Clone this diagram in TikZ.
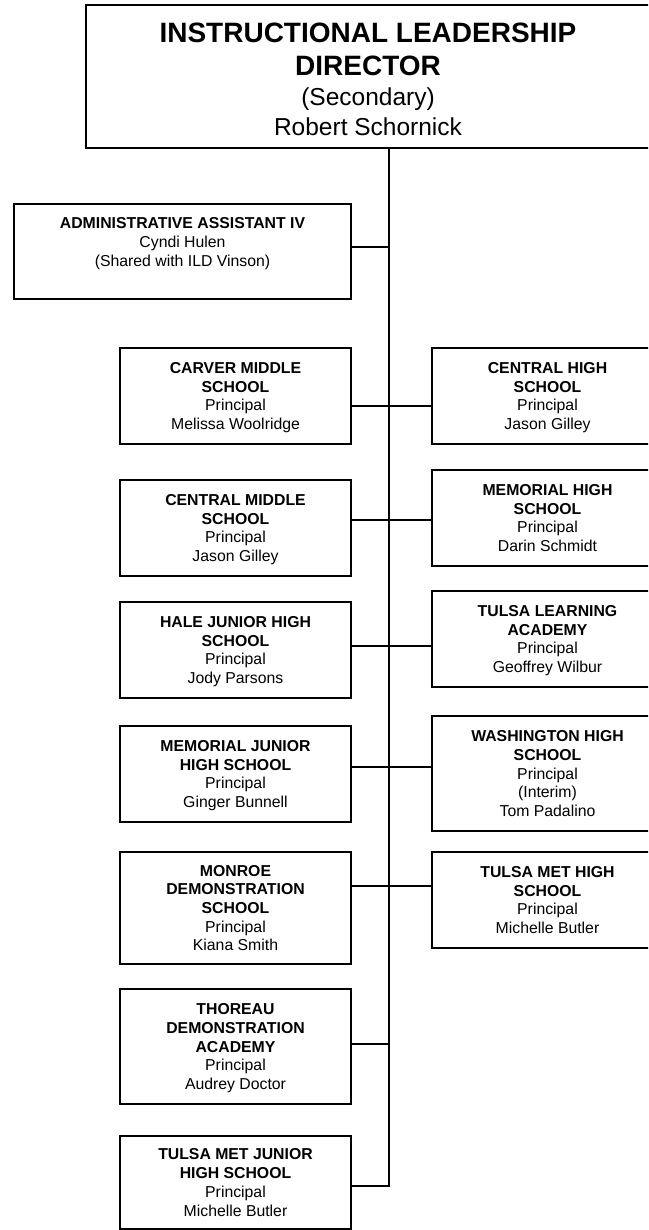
\documentclass[tikz,border=0pt]{standalone}
\usepackage{fontspec}
\setmainfont{Liberation Sans}

\begin{document}
\begin{tikzpicture}
        [x=1pt,y=-1pt,line width=1.8pt,
        box/.style={shape=rectangle,draw,line width=1.8pt,align=center,inner sep=0pt,
        font=\fontsize{15.8}{18.7}\selectfont},
        unit/.style={box,minimum width=231pt,minimum height=96pt,text depth=0pt}]
    \useasboundingbox (0,0) rectangle (648,1230);
    \clip (0,0) rectangle (648,1230);
        \node[box,minimum width=564pt,minimum height=143pt,font=\fontsize{24.5}{30}\selectfont] (ild) at (368,76.5)
            {\rule{0pt}{25pt}\textbf{\fontsize{28}{30}\selectfont INSTRUCTIONAL LEADERSHIP}\\[3pt]\textbf{\fontsize{28}{30}\selectfont DIRECTOR}\\(Secondary)\\Robert Schornick};
        \node[box,minimum width=337pt,minimum height=95pt] (admin) at (182.5,251.5)
            {\textbf{ADMINISTRATIVE ASSISTANT IV}\\Cyndi Hulen\\(Shared with ILD Vinson)\\\mbox{}};

        \node[unit] (carver) at (235.5,396) {\textbf{CARVER MIDDLE}\\\textbf{SCHOOL}\\Principal\\Melissa Woolridge};
        \node[unit] (cms) at (235.5,528) {\textbf{CENTRAL MIDDLE}\\\textbf{SCHOOL}\\Principal\\Jason Gilley};
        \node[unit] (hale) at (235.5,650) {\textbf{HALE JUNIOR HIGH}\\\textbf{SCHOOL}\\Principal\\Jody Parsons};
        \node[unit] (mjhs) at (235.5,774) {\textbf{MEMORIAL JUNIOR}\\\textbf{HIGH SCHOOL}\\Principal\\Ginger Bunnell};
        \node[unit,minimum height=112pt] (monroe) at (235.5,908) {\textbf{MONROE}\\\textbf{DEMONSTRATION}\\\textbf{SCHOOL}\\Principal\\Kiana Smith};
        \node[unit,minimum height=115pt] (thoreau) at (235.5,1046.5) {\textbf{THOREAU}\\\textbf{DEMONSTRATION}\\\textbf{ACADEMY}\\Principal\\Audrey Doctor};
        \node[unit,minimum height=93pt] (tmjhs) at (235.5,1182.5) {\textbf{TULSA MET JUNIOR}\\\textbf{HIGH SCHOOL}\\Principal\\Michelle Butler};

        \node[unit] (chs) at (547.5,396) {\textbf{CENTRAL HIGH}\\\textbf{SCHOOL}\\Principal\\Jason Gilley};
        \node[unit] (mhs) at (547.5,518) {\textbf{MEMORIAL HIGH}\\\textbf{SCHOOL}\\Principal\\Darin Schmidt};
        \node[unit] (tla) at (547.5,639) {\textbf{TULSA LEARNING}\\\textbf{ACADEMY}\\Principal\\Geoffrey Wilbur};
        \node[unit,minimum height=115pt] (whs) at (547.5,773.5) {\textbf{WASHINGTON HIGH}\\\textbf{SCHOOL}\\Principal\\(Interim)\\Tom Padalino};
        \node[unit] (tmhs) at (547.5,900) {\textbf{TULSA MET HIGH}\\\textbf{SCHOOL}\\Principal\\Michelle Butler};

        \coordinate (j0) at (389,247);
        \coordinate (j1) at (389,406);
        \coordinate (j2) at (389,520);
        \coordinate (j3) at (389,646);
        \coordinate (j4) at (389,767);
        \coordinate (j5) at (389,886);
        \coordinate (j6) at (389,1044);
        \coordinate (j7) at (389,1186);

        \draw (ild.south -| j7) -- (j7) -- (tmjhs.east |- j7);
        \draw (admin.east |- j0) -- (j0);
        \draw (carver.east |- j1) -- (chs.west |- j1);
        \draw (cms.east |- j2) -- (mhs.west |- j2);
        \draw (hale.east |- j3) -- (tla.west |- j3);
        \draw (mjhs.east |- j4) -- (whs.west |- j4);
        \draw (monroe.east |- j5) -- (tmhs.west |- j5);
        \draw (thoreau.east |- j6) -- (j6);
\end{tikzpicture}
\end{document}
